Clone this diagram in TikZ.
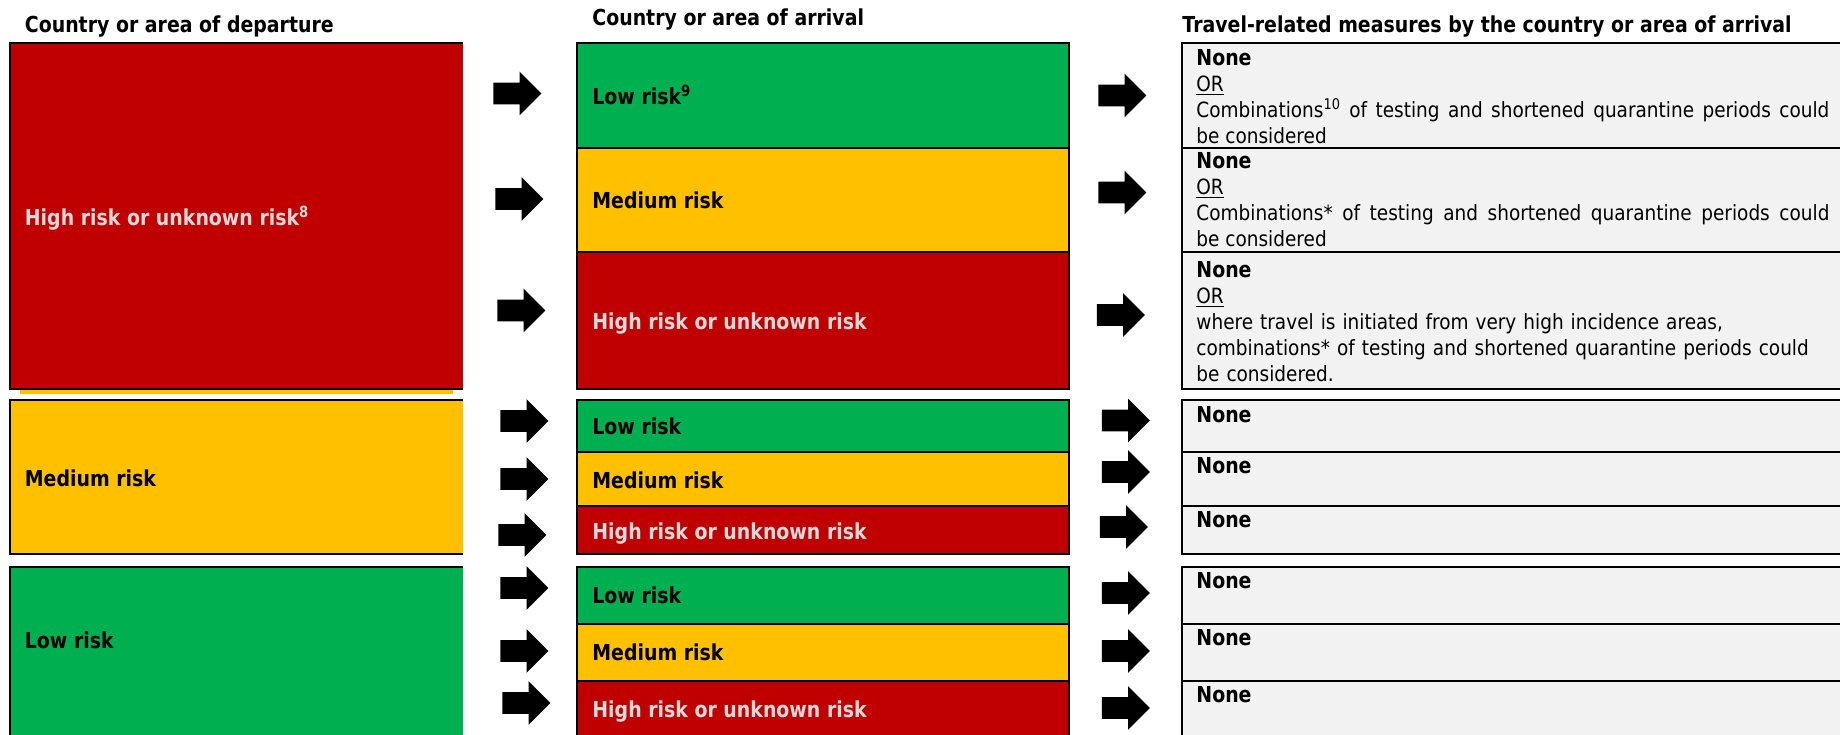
\documentclass[tikz,border=0pt]{standalone}
\usepackage{fontspec}
\setmainfont{DejaVu Sans}[FakeStretch=0.88,BoldFeatures={FakeStretch=0.86}]
\usetikzlibrary{shapes.arrows}
\definecolor{riskhigh}{HTML}{C00000}
\definecolor{riskmed}{HTML}{FFC000}
\definecolor{risklow}{HTML}{00B050}
\definecolor{measfill}{HTML}{F2F2F2}
\definecolor{hightext}{HTML}{D9D9D9}
\tikzset{
  colhead/.style={anchor=base west,inner sep=0pt,font=\fontsize{11}{13}\selectfont\bfseries},
  lbl/.style={anchor=base west,inner sep=0pt,font=\fontsize{11}{13}\selectfont\bfseries},
  lblhigh/.style={lbl,text=hightext},
  meas/.style={anchor=base west,inner sep=0pt,text width=316.5pt,font=\fontsize{10.5}{13}\selectfont},
  riskbox/.style={draw=black,line width=1pt},
  blkarrow/.style={single arrow,fill=black,anchor=tail,inner xsep=0pt,inner ysep=5.25pt,
    single arrow head extend=5.5pt,minimum height=24pt},
}
\newcommand{\nonetxt}{{\bfseries\fontsize{11}{13}\selectfont None}}
\begin{document}
\begin{tikzpicture}[x=0.5pt,y=-0.5pt]
    \clip (0,0) rectangle (1840,734);
    % column headings
    \node[colhead] (hdep) at (24.5,32) {Country or area of departure};
    \node[colhead] (harr) at (592,25) {Country or area of arrival};
    \node[colhead] (hmeas) at (1182,32) {Travel-related measures by the country or area of arrival};

    % departure
    \fill[riskmed] (20,390) rectangle (453,393.5);
    \fill[riskhigh] (9.5,43) rectangle (463,389);
    \draw[line width=1pt] (463,43) -- (9.5,43) -- (9.5,389) -- (463,389);
    \fill[riskmed] (9.5,400) rectangle (463,554);
    \draw[line width=1pt] (463,400) -- (9.5,400) -- (9.5,554) -- (463,554);
    \fill[risklow] (9.5,567) rectangle (463,740);
    \draw[line width=1pt] (463,567) -- (9.5,567) -- (9.5,740);
    \node[lblhigh] (dephigh) at (24.5,225) {High risk or unknown risk\textsuperscript{8}};
    \node[lbl] (depmed) at (24.5,486) {Medium risk};
    \node[lbl] (deplow) at (24.5,648) {Low risk};

    % arrival
    \filldraw[riskbox,fill=risklow] (577,43) rectangle (1069,148);
    \filldraw[riskbox,fill=riskmed] (577,148) rectangle (1069,252);
    \filldraw[riskbox,fill=riskhigh] (577,252) rectangle (1069,389);
    \filldraw[riskbox,fill=risklow] (577,400) rectangle (1069,452);
    \filldraw[riskbox,fill=riskmed] (577,452) rectangle (1069,506);
    \filldraw[riskbox,fill=riskhigh] (577,506) rectangle (1069,554);
    \filldraw[riskbox,fill=risklow] (577,567) rectangle (1069,624);
    \filldraw[riskbox,fill=riskmed] (577,624) rectangle (1069,681);
    \filldraw[riskbox,fill=riskhigh] (577,681) rectangle (1069,740);
    \path
    (592,104) node[lbl] (arrlowa) {Low risk\textsuperscript{9}}
    (592,208) node[lbl] (arrmeda) {Medium risk}
    (592,329) node[lblhigh] (arrhigha) {High risk or unknown risk}
    (592,434) node[lbl] (arrlowb) {Low risk}
    (592,488) node[lbl] (arrmedb) {Medium risk}
    (592,539) node[lblhigh] (arrhighb) {High risk or unknown risk}
    (592,603) node[lbl] (arrlowc) {Low risk}
    (592,660) node[lbl] (arrmedc) {Medium risk}
    (592,717) node[lblhigh] (arrhighc) {High risk or unknown risk}
    ;

    % measures
    \filldraw[riskbox,fill=measfill] (1182,43) rectangle (1860,148);
    \filldraw[riskbox,fill=measfill] (1182,148) rectangle (1860,252);
    \filldraw[riskbox,fill=measfill] (1182,252) rectangle (1860,389);
    \filldraw[riskbox,fill=measfill] (1182,400) rectangle (1860,452);
    \filldraw[riskbox,fill=measfill] (1182,452) rectangle (1860,506);
    \filldraw[riskbox,fill=measfill] (1182,506) rectangle (1860,554);
    \filldraw[riskbox,fill=measfill] (1182,567) rectangle (1860,624);
    \filldraw[riskbox,fill=measfill] (1182,624) rectangle (1860,681);
    \filldraw[riskbox,fill=measfill] (1182,681) rectangle (1860,740);
    \node[meas,align=justify] (measa) at (1196,65) {\nonetxt\\\underline{OR}\\Combinations\textsuperscript{10} of testing and shortened quarantine periods could\linebreak be considered};
    \node[meas,align=justify] (measb) at (1196,168) {\nonetxt\\\underline{OR}\\Combinations* of testing and shortened quarantine periods could\linebreak be considered};
    \node[meas,align=left] (measc) at (1196,277) {\nonetxt\\\underline{OR}\\where travel is initiated from very high incidence areas,\\combinations* of testing and shortened quarantine periods could\\be considered.};
    \path
    (1196,422) node[lbl] (measd) {None}
    (1196,473) node[lbl] (mease) {None}
    (1196,527) node[lbl] (measf) {None}
    (1196,588) node[lbl] (measg) {None}
    (1196,645) node[lbl] (meash) {None}
    (1196,702) node[lbl] (measi) {None}
    ;

    % arrows
    \node[blkarrow] (ara) at (493,93.5) {};
    \node[blkarrow] (arb) at (495,199) {};
    \node[blkarrow] (arc) at (497,310.5) {};
    \node[blkarrow] (ard) at (500,421) {};
    \node[blkarrow] (are) at (500,479) {};
    \node[blkarrow] (arf) at (498,535) {};
    \node[blkarrow] (arg) at (500,588) {};
    \node[blkarrow] (arh) at (500,651) {};
    \node[blkarrow] (ari) at (502,703) {};
    \node[blkarrow] (bra) at (1098,95.5) {};
    \node[blkarrow] (brb) at (1098,192.5) {};
    \node[blkarrow] (brc) at (1096.5,315) {};
    \node[blkarrow] (brd) at (1101.5,420.5) {};
    \node[blkarrow] (bre) at (1101.5,472) {};
    \node[blkarrow] (brf) at (1099.5,527) {};
    \node[blkarrow] (brg) at (1101.5,593) {};
    \node[blkarrow] (brh) at (1101.5,651) {};
    \node[blkarrow] (bri) at (1101.5,708) {};
\end{tikzpicture}
\end{document}
